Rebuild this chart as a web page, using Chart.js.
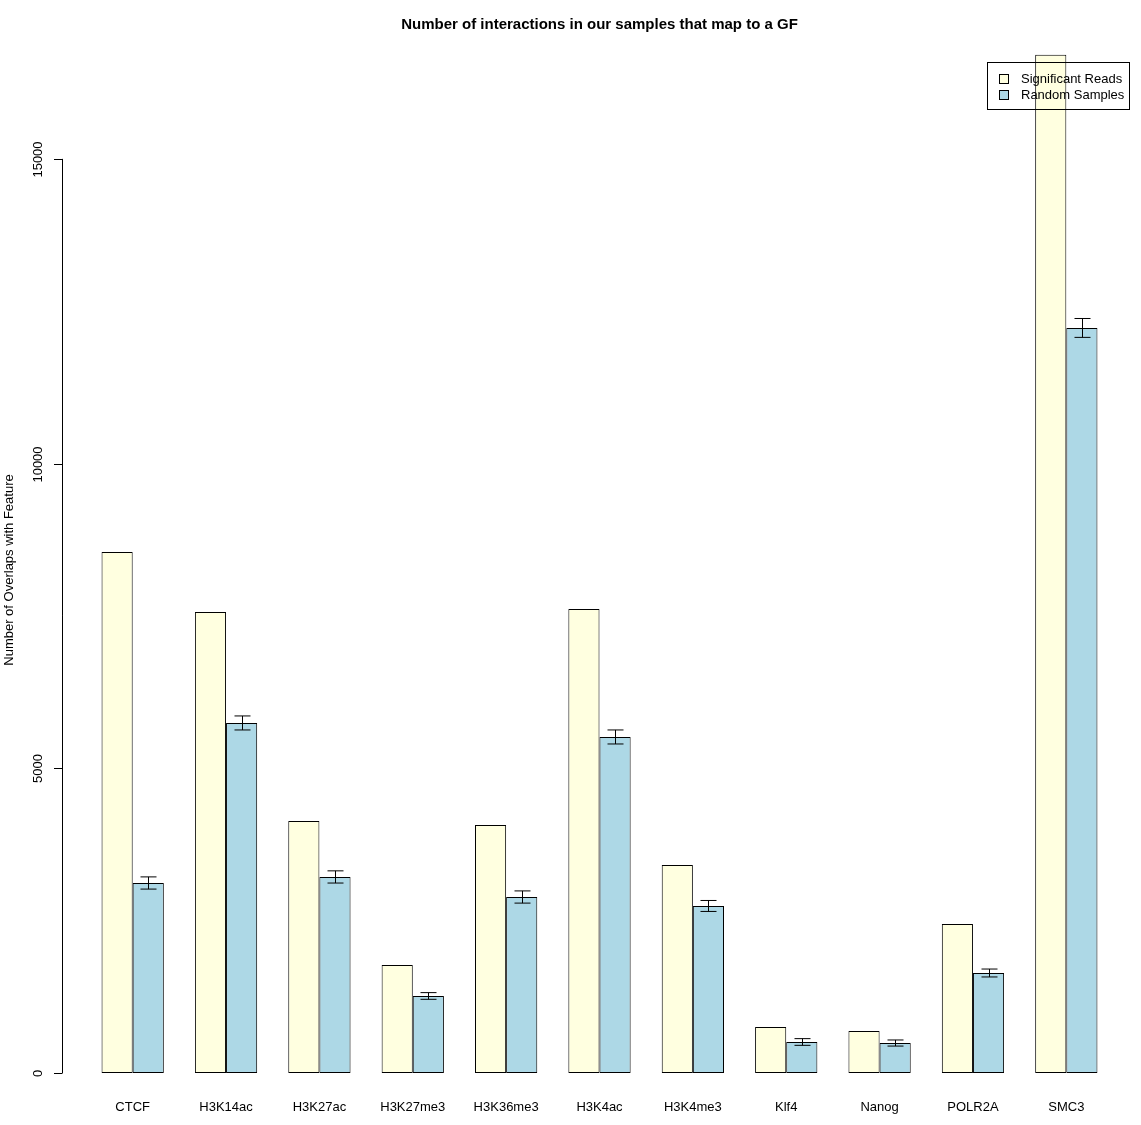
<!DOCTYPE html>
<html>
<head>
<meta charset="utf-8">
<script src="https://cdn.jsdelivr.net/npm/chart.js@4/dist/chart.umd.min.js"></script>
<style>
  body { margin: 0; background: #fff; }
  #wrap { width: 1141px; height: 1125px; }
</style>
</head>
<body>
<div id="wrap"><canvas id="myChart" width="1141" height="1125"></canvas></div>
<script>
var features = ["CTCF", "H3K14ac", "H3K27ac", "H3K27me3", "H3K36me3", "H3K4ac", "H3K4me3", "Klf4", "Nanog", "POLR2A", "SMC3"];
var significant = [8550, 7566, 4136, 1772, 4070, 7615, 3414, 755, 689, 2445, 16707];
var randomMean = [3118, 5744, 3217, 1264, 2888, 5514, 2741, 509, 492, 1641, 12226];
var randomErr = [100, 115, 100, 55, 100, 115, 90, 55, 50, 65, 155];
var yTicks = [0, 5000, 10000, 15000];

var fontFam = "'Liberation Sans', Arial, Helvetica, sans-serif";

// y axis, error bars and legend drawn R-style
var rStyle = {
  id: "rStyle",
  afterDatasetsDraw: function (chart) {
    var ctx = chart.ctx;
    var y = chart.scales.y;
    ctx.save();
    ctx.strokeStyle = "#000";
    ctx.lineWidth = 1;

    // error bars on random samples
    var meta = chart.getDatasetMeta(1);
    meta.data.forEach(function (bar, i) {
      var x = Math.round(bar.x) + 0.5;
      var top = y.getPixelForValue(randomMean[i] + randomErr[i]);
      var bot = y.getPixelForValue(randomMean[i] - randomErr[i]);
      ctx.beginPath();
      ctx.moveTo(x, top); ctx.lineTo(x, bot);
      ctx.moveTo(x - 8, top); ctx.lineTo(x + 8, top);
      ctx.moveTo(x - 8, bot); ctx.lineTo(x + 8, bot);
      ctx.stroke();
    });

    // y axis
    var ax = 62.5;
    ctx.beginPath();
    ctx.moveTo(ax, y.getPixelForValue(yTicks[0]));
    ctx.lineTo(ax, y.getPixelForValue(yTicks[yTicks.length - 1]));
    ctx.stroke();
    ctx.font = "13px " + fontFam;
    ctx.fillStyle = "#000";
    ctx.textAlign = "center";
    ctx.textBaseline = "middle";
    yTicks.forEach(function (t) {
      var py = Math.round(y.getPixelForValue(t)) + 0.5;
      ctx.beginPath();
      ctx.moveTo(54, py); ctx.lineTo(ax, py);
      ctx.stroke();
      ctx.save();
      ctx.translate(38, py);
      ctx.rotate(-Math.PI / 2);
      ctx.fillText(String(t), 0, 0);
      ctx.restore();
    });
    ctx.save();
    ctx.translate(9, 570);
    ctx.rotate(-Math.PI / 2);
    ctx.fillText("Number of Overlaps with Feature", 0, 0);
    ctx.restore();

    // legend
    ctx.strokeRect(987.5, 62.5, 142, 47);
    ctx.textAlign = "left";
    chart.data.datasets.forEach(function (ds, i) {
      var ry = 79 + i * 16;
      ctx.fillStyle = ds.backgroundColor;
      ctx.fillRect(999.5, ry - 4.5, 9, 9);
      ctx.strokeRect(999.5, ry - 4.5, 9, 9);
      ctx.fillStyle = "#000";
      ctx.fillText(ds.label, 1021, ry);
    });
    ctx.restore();
  }
};

var ctx = document.getElementById("myChart").getContext("2d");
var myChart = new Chart(ctx, {
  type: "bar",
  data: {
    labels: features,
    datasets: [
      {
        label: "Significant Reads",
        data: significant,
        backgroundColor: "#FFFFE0",
        borderColor: "#000",
        borderWidth: 1,
        borderSkipped: false
      },
      {
        label: "Random Samples",
        data: randomMean,
        backgroundColor: "#ADD8E6",
        borderColor: "#000",
        borderWidth: 1,
        borderSkipped: false
      }
    ]
  },
  options: {
    responsive: false,
    animation: false,
    layout: { padding: { left: 86, right: 28, top: 0, bottom: 0 } },
    datasets: { bar: { categoryPercentage: 0.667, barPercentage: 1.0 } },
    plugins: {
      legend: { display: false },
      tooltip: { enabled: false },
      title: {
        display: true,
        text: "Number of interactions in our samples that map to a GF",
        color: "#000",
        font: { family: fontFam, size: 15, weight: "bold" },
        padding: { top: 16, bottom: 3 }
      }
    },
    scales: {
      x: {
        grid: { display: false, drawTicks: false },
        border: { display: false },
        ticks: { color: "#000", padding: 27, font: { family: fontFam, size: 13 } },
        afterFit: function (scale) { scale.height = 52; }
      },
      y: {
        display: false,
        min: 0,
        max: 17000
      }
    }
  },
  plugins: [rStyle]
});
</script>
</body>
</html>
